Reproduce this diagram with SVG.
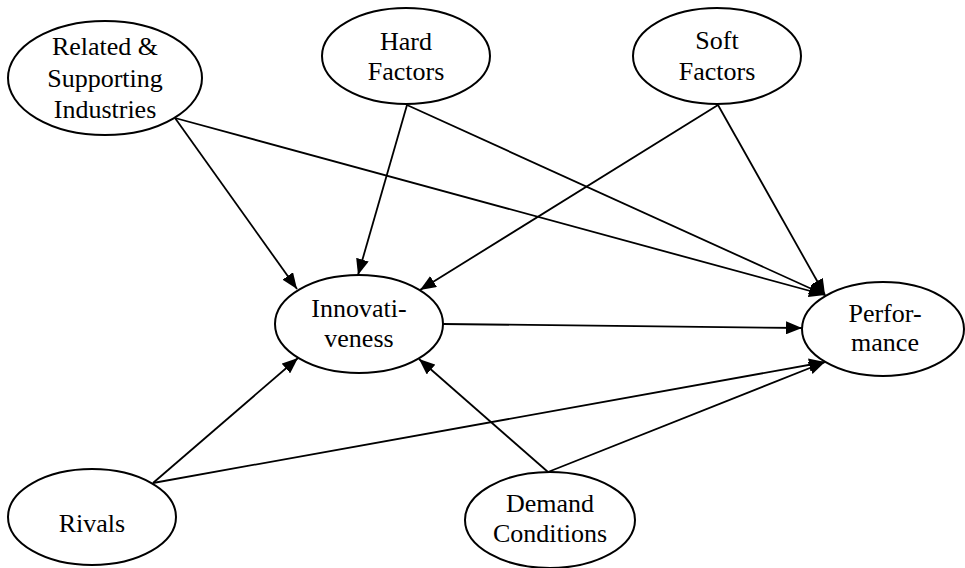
<svg xmlns="http://www.w3.org/2000/svg" width="965" height="568" viewBox="0 0 965 568">
<style>
.node ellipse{fill:#fff;stroke:#000;stroke-width:2}
.node text{font-family:"Liberation Serif","Times New Roman",serif;font-size:26px;fill:#000;text-anchor:middle}
.edges line{stroke:#000;stroke-width:1.8;fill:none}
</style>
<defs>
<marker id="arr" markerUnits="userSpaceOnUse" markerWidth="17" markerHeight="13" refX="16" refY="6.5" orient="auto">
<path d="M0,0 L16,6.5 L0,13 z" fill="#000"/>
</marker>
</defs>
<rect width="965" height="568" fill="#fff"/>
<g class="edges">
<line x1="175" y1="118" x2="297" y2="289" marker-end="url(#arr)"/>
<line x1="175" y1="118" x2="825" y2="295" marker-end="url(#arr)"/>
<line x1="407" y1="105" x2="358" y2="275" marker-end="url(#arr)"/>
<line x1="407" y1="105" x2="825" y2="295" marker-end="url(#arr)"/>
<line x1="718" y1="105" x2="420" y2="290" marker-end="url(#arr)"/>
<line x1="718" y1="105" x2="825" y2="295" marker-end="url(#arr)"/>
<line x1="443" y1="324" x2="802" y2="328" marker-end="url(#arr)"/>
<line x1="153" y1="483" x2="298" y2="358" marker-end="url(#arr)"/>
<line x1="153" y1="483" x2="825" y2="362" marker-end="url(#arr)"/>
<line x1="548" y1="472" x2="419" y2="359" marker-end="url(#arr)"/>
<line x1="548" y1="472" x2="825" y2="362" marker-end="url(#arr)"/>
</g>
<g id="related" class="node">
<ellipse cx="105" cy="78" rx="97" ry="57"/>
<text x="105" y="55">Related &amp;</text>
<text x="105" y="87">Supporting</text>
<text x="105" y="118">Industries</text>
</g>
<g id="hard" class="node">
<ellipse cx="406" cy="56" rx="84" ry="48"/>
<text x="406" y="50">Hard</text>
<text x="406" y="80">Factors</text>
</g>
<g id="soft" class="node">
<ellipse cx="717" cy="56" rx="84" ry="48"/>
<text x="717" y="49">Soft</text>
<text x="717" y="80">Factors</text>
</g>
<g id="innovativeness" class="node">
<ellipse cx="359" cy="324" rx="84" ry="49"/>
<text x="359" y="317">Innovati-</text>
<text x="359" y="347">veness</text>
</g>
<g id="performance" class="node">
<ellipse cx="883" cy="329" rx="81" ry="47"/>
<text x="885" y="322">Perfor-</text>
<text x="885" y="351">mance</text>
</g>
<g id="rivals" class="node">
<ellipse cx="92" cy="517" rx="84" ry="48"/>
<text x="92" y="532">Rivals</text>
</g>
<g id="demand" class="node">
<ellipse cx="550" cy="520" rx="85" ry="48"/>
<text x="550" y="512">Demand</text>
<text x="550" y="542">Conditions</text>
</g>
</svg>
